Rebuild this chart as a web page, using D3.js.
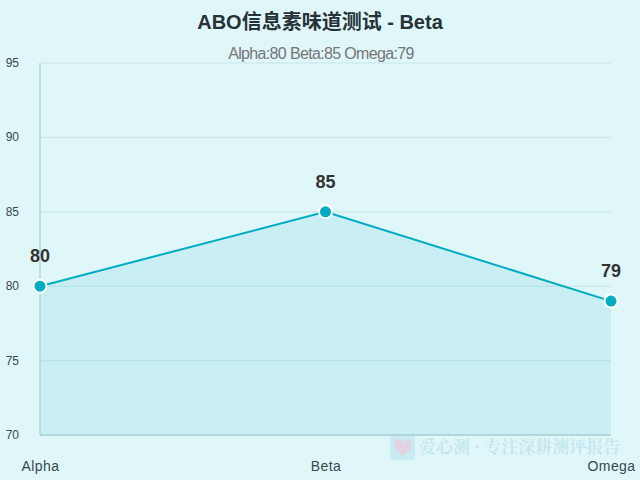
<!DOCTYPE html>
<html>
<head>
<meta charset="utf-8">
<script src="https://cdn.jsdelivr.net/npm/d3@7"></script>
<style>
html, body { margin: 0; padding: 0; background: #e0f7fa; overflow: hidden; }
text { font-family: "Liberation Sans", "Noto Sans CJK SC", sans-serif; }
</style>
</head>
<body>
<script>
const categories = ['Alpha', 'Beta', 'Omega']
const scores = [80, 85, 79]
const yTicks = [70, 75, 80, 85, 90, 95]
const chartTitle = 'ABO信息素味道测试 - Beta'
const chartSubtitle = 'Alpha:80 Beta:85 Omega:79'
const watermark = '爱心测 · 专注深耕测评报告'

const width = 640, height = 480
const plotLeft = 40, plotRight = 611, plotTop = 63, plotBottom = 435

const svg = d3.select('body').append('svg')
    .attr('width', width)
    .attr('height', height)
    .style('display', 'block')

svg.append('rect')
    .attr('width', width)
    .attr('height', height)
    .attr('fill', '#e0f7fa')

const x = d3.scalePoint().domain(categories).range([plotLeft, plotRight])
const y = d3.scaleLinear().domain([70, 95]).range([plotBottom, plotTop])

// grid lines
svg.selectAll('.grid')
    .data(yTicks.filter(d => d != 70))
    .enter()
    .append('line')
    .attr('class', 'grid')
    .attr('x1', plotLeft)
    .attr('x2', plotRight)
    .attr('y1', d => y(d))
    .attr('y2', d => y(d))
    .attr('stroke', '#a8cdd0')
    .attr('stroke-opacity', 0.3)
    .attr('stroke-width', 1.5)

// watermark
const mark = svg.append('g').attr('opacity', 0.16)
mark.append('rect')
    .attr('x', 390).attr('y', 435)
    .attr('width', 25).attr('height', 25)
    .attr('rx', 4)
    .attr('fill', '#4fb3d9')
mark.append('path')
    .attr('d', 'M403,456 C392,449 392,439 398,439 C400,439 403,441 403,444 C403,441 406,439 408,439 C414,439 414,449 403,456 Z')
    .attr('fill', '#e91e63')
svg.append('text')
    .attr('x', 419)
    .attr('y', 453)
    .attr('font-size', 17)
    .attr('font-weight', 'bold')
    .style('font-family', '"Noto Serif CJK SC", "Noto Sans CJK SC", serif')
    .attr('fill', '#4aa0b8')
    .attr('opacity', 0.18)
    .text(watermark)

// area + line
const area = d3.area()
    .x((d, i) => x(categories[i]))
    .y0(plotBottom)
    .y1(d => y(d))
const line = d3.line()
    .x((d, i) => x(categories[i]))
    .y(d => y(d))

svg.append('path')
    .attr('d', area(scores))
    .attr('fill', '#00acc1')
    .attr('fill-opacity', 0.1)

// axes
svg.append('line')
    .attr('x1', plotLeft).attr('x2', plotLeft)
    .attr('y1', plotTop).attr('y2', plotBottom)
    .attr('stroke', '#a8cdd0')
    .attr('stroke-opacity', 0.8)
    .attr('stroke-width', 1.5)
svg.append('line')
    .attr('x1', plotLeft).attr('x2', plotRight)
    .attr('y1', plotBottom).attr('y2', plotBottom)
    .attr('stroke', '#a8cdd0')
    .attr('stroke-width', 1.5)

svg.append('path')
    .attr('d', line(scores))
    .attr('fill', 'none')
    .attr('stroke', '#00acc1')
    .attr('stroke-width', 2)

svg.selectAll('.dot')
    .data(scores)
    .enter()
    .append('circle')
    .attr('class', 'dot')
    .attr('cx', (d, i) => x(categories[i]))
    .attr('cy', d => y(d))
    .attr('r', 6.5)
    .attr('fill', '#00acc1')
    .attr('stroke', '#ffffff')
    .attr('stroke-width', 2)

svg.selectAll('.value')
    .data(scores)
    .enter()
    .append('text')
    .attr('class', 'value')
    .attr('x', (d, i) => x(categories[i]))
    .attr('y', d => y(d) - 24)
    .attr('text-anchor', 'middle')
    .attr('font-size', 18)
    .attr('font-weight', 'bold')
    .attr('fill', '#333333')
    .text(d => d)

// tick labels
svg.selectAll('.ytick')
    .data(yTicks)
    .enter()
    .append('text')
    .attr('class', 'ytick')
    .attr('x', 19)
    .attr('y', d => y(d) + 4)
    .attr('text-anchor', 'end')
    .attr('font-size', 12)
    .attr('fill', '#37474f')
    .text(d => d)

svg.selectAll('.xtick')
    .data(categories)
    .enter()
    .append('text')
    .attr('class', 'xtick')
    .attr('x', d => x(d) + 0.5)
    .attr('y', 471)
    .attr('text-anchor', 'middle')
    .attr('font-size', 14)
    .attr('letter-spacing', '0.4')
    .attr('fill', '#37474f')
    .text(d => d)

// title
svg.append('text')
    .attr('x', width / 2)
    .attr('y', 29)
    .attr('text-anchor', 'middle')
    .attr('font-size', 20)
    .attr('font-weight', 'bold')
    .attr('fill', '#263238')
    .text(chartTitle)

svg.append('text')
    .attr('x', width / 2 + 1)
    .attr('y', 59)
    .attr('text-anchor', 'middle')
    .attr('font-size', 16)
    .attr('letter-spacing', '-0.65')
    .attr('fill', '#757575')
    .text(chartSubtitle)
</script>
</body>
</html>
